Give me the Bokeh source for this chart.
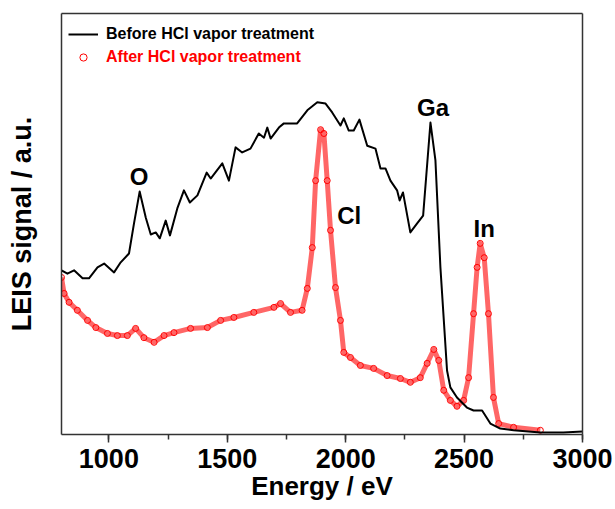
from bokeh.plotting import figure
from bokeh.models import (ColumnDataSource, Range1d, Legend, LegendItem,
                          SingleIntervalTicker, FixedTicker, LinearAxis)
from bokeh.core.properties import value
from bokeh.embed import file_html
from bokeh.resources import INLINE

# ---- data ----
before_energy = [800, 825, 853, 889, 916, 952, 980, 1022, 1050, 1085, 1106, 1130, 1156, 1177,
                 1198, 1215, 1240, 1258, 1289, 1317, 1342, 1374, 1413, 1430, 1479, 1507,
                 1535, 1563, 1598, 1633, 1655, 1669, 1683, 1718, 1739, 1795, 1838, 1880,
                 1915, 1943, 1978, 1992, 2013, 2034, 2058, 2091, 2126, 2147, 2168, 2189,
                 2217, 2228, 2242, 2273, 2301, 2327, 2358, 2379, 2400, 2428, 2442, 2470,
                 2512, 2540, 2576, 2611, 2653, 2709, 2822, 2919, 3000]
before_signal = [39.0, 38.2, 39.0, 37.1, 37.1, 39.7, 40.6, 38.5, 40.9, 43.0, 50.1, 57.7, 51.5, 47.5,
                 48.0, 46.6, 50.8, 47.3, 53.7, 58.0, 55.1, 56.8, 62.2, 60.8, 64.4, 60.3,
                 68.2, 67.0, 67.9, 71.5, 70.5, 72.9, 70.3, 72.9, 73.9, 73.9, 77.0, 78.9,
                 78.6, 76.5, 73.4, 75.1, 72.2, 72.2, 74.8, 68.6, 67.9, 63.2, 63.2, 60.3,
                 58.0, 55.6, 57.5, 48.0, 50.1, 52.0, 74.1, 65.1, 39.7, 15.2, 11.2, 8.8,
                 6.4, 5.7, 5.7, 2.6, 1.4, 1.0, 0.5, 0.5, 0.7]

after_energy = [800, 811, 832, 867, 910, 945, 994, 1036, 1078, 1113, 1148, 1191, 1233, 1275,
                1345, 1416, 1472, 1528, 1612, 1697, 1725, 1767, 1816, 1838, 1859, 1873,
                1894, 1908, 1922, 1936, 1957, 1978, 1992, 2020, 2062, 2118, 2175, 2231,
                2273, 2315, 2344, 2372, 2393, 2414, 2442, 2470, 2498, 2519, 2540, 2555,
                2568, 2585, 2603, 2624, 2646, 2709, 2822]
after_signal = [37.3, 33.5, 31.4, 29.5, 27.1, 25.4, 24.0, 23.5, 23.5, 25.2, 23.0, 21.9, 23.5, 24.2,
                25.2, 25.4, 27.1, 27.8, 29.0, 30.2, 31.1, 29.0, 29.5, 34.7, 44.4, 60.3,
                72.4, 71.5, 60.3, 48.5, 34.9, 27.1, 19.5, 18.3, 16.4, 15.7, 14.0, 13.3,
                12.4, 13.5, 16.9, 20.2, 17.6, 10.5, 8.1, 6.7, 8.1, 13.5, 28.7, 39.7,
                45.4, 42.0, 28.7, 8.8, 2.6, 1.7, 1.0]

peak_labels = ["O", "Cl", "Ga", "In"]
peak_label_energy = [1088, 1964, 2301, 2540]
peak_label_signal = [61.2, 52.0, 77.7, 48.9]

x_ticks_interval = 500
x_title = "Energy / eV"
y_title = "LEIS signal / a.u."
legend_labels = ["Before HCl vapor treatment", "After HCl vapor treatment"]

FONT = "Liberation Sans"
AXIS_COLOR = "#333333"
FRAME_W, FRAME_H = 521, 421

p = figure(frame_width=FRAME_W, frame_height=FRAME_H, min_border_left=61, min_border_right=31,
           min_border_top=13, min_border_bottom=74,
           x_range=Range1d(800, 3000), y_range=Range1d(0, 100),
           output_backend="svg", toolbar_location=None,
           x_axis_label=x_title, y_axis_label=y_title)

p.background_fill_color = "white"
p.border_fill_color = "white"
p.grid.grid_line_color = None
p.outline_line_color = None

# x axis
xa = p.xaxis[0]
xa.ticker = SingleIntervalTicker(interval=x_ticks_interval, num_minor_ticks=2)
xa.axis_line_color = AXIS_COLOR
xa.axis_line_width = 1.5
xa.major_tick_line_color = AXIS_COLOR
xa.major_tick_line_width = 1.5
xa.minor_tick_line_color = AXIS_COLOR
xa.minor_tick_line_width = 1.5
xa.major_tick_out = 8
xa.major_tick_in = 0
xa.minor_tick_out = 5
xa.minor_tick_in = 0
xa.major_label_standoff = 6
xa.major_label_text_font = FONT
xa.major_label_text_font_style = "bold"
xa.major_label_text_font_size = "27px"
xa.major_label_text_color = "black"
xa.axis_label_standoff = 0
xa.axis_label_text_font = FONT
xa.axis_label_text_font_style = "bold"
xa.axis_label_text_font_size = "26px"
xa.axis_label_text_color = "black"

# y axis
ya = p.yaxis[0]
ya.ticker = FixedTicker(ticks=[])
ya.axis_line_color = AXIS_COLOR
ya.axis_line_width = 1.5
ya.major_tick_out = 0
ya.major_tick_in = 0
ya.minor_tick_out = 0
ya.minor_tick_in = 0
ya.major_label_standoff = 0
ya.major_label_text_font_size = "0px"
ya.axis_label_standoff = 25
ya.axis_label_text_font = FONT
ya.axis_label_text_font_style = "bold"
ya.axis_label_text_font_size = "27px"
ya.axis_label_text_color = "black"

# top and right frame lines
for side in ("above", "right"):
    ax = LinearAxis(ticker=FixedTicker(ticks=[]), axis_line_color=AXIS_COLOR,
                    axis_line_width=1.5, major_tick_out=0, major_tick_in=0,
                    minor_tick_out=0, minor_tick_in=0, major_label_standoff=0,
                    major_label_text_font_size="0px")
    p.add_layout(ax, side)

before_src = ColumnDataSource(dict(x=before_energy, y=before_signal))
after_src = ColumnDataSource(dict(x=after_energy, y=after_signal))

after_band = p.line("x", "y", source=after_src, line_color="#ff0000", line_width=5,
                    line_alpha=0.6, line_join="round")
after_r = p.scatter("x", "y", source=after_src, marker="circle", size=6,
                    line_color="#ff0000", line_alpha=1.0, line_width=1, fill_color=None)
before_r = p.line("x", "y", source=before_src, line_color="black", line_width=2,
                  line_join="round")

labels_src = ColumnDataSource(dict(x=peak_label_energy, y=peak_label_signal, text=peak_labels))
p.text("x", "y", text="text", source=labels_src, text_font=value(FONT),
       text_font_style="bold", text_font_size=value("24px"), text_color="black",
       text_align="left", text_baseline="alphabetic")

common = dict(border_line_color=None, background_fill_alpha=0, padding=0, margin=0,
              spacing=0, glyph_width=30, glyph_height=18, label_height=18,
              label_standoff=8, label_text_font=FONT, label_text_font_style="bold",
              label_text_font_size="16px")
leg1 = Legend(items=[LegendItem(label=legend_labels[0], renderers=[before_r])],
              location=(7, 391), label_text_color="black", **common)
leg2 = Legend(items=[LegendItem(label=legend_labels[1], renderers=[after_r])],
              location=(7, 368), label_text_color="#ff0000", **common)
p.add_layout(leg1)
p.add_layout(leg2)

open("out.html", "w").write(file_html(p, INLINE))
